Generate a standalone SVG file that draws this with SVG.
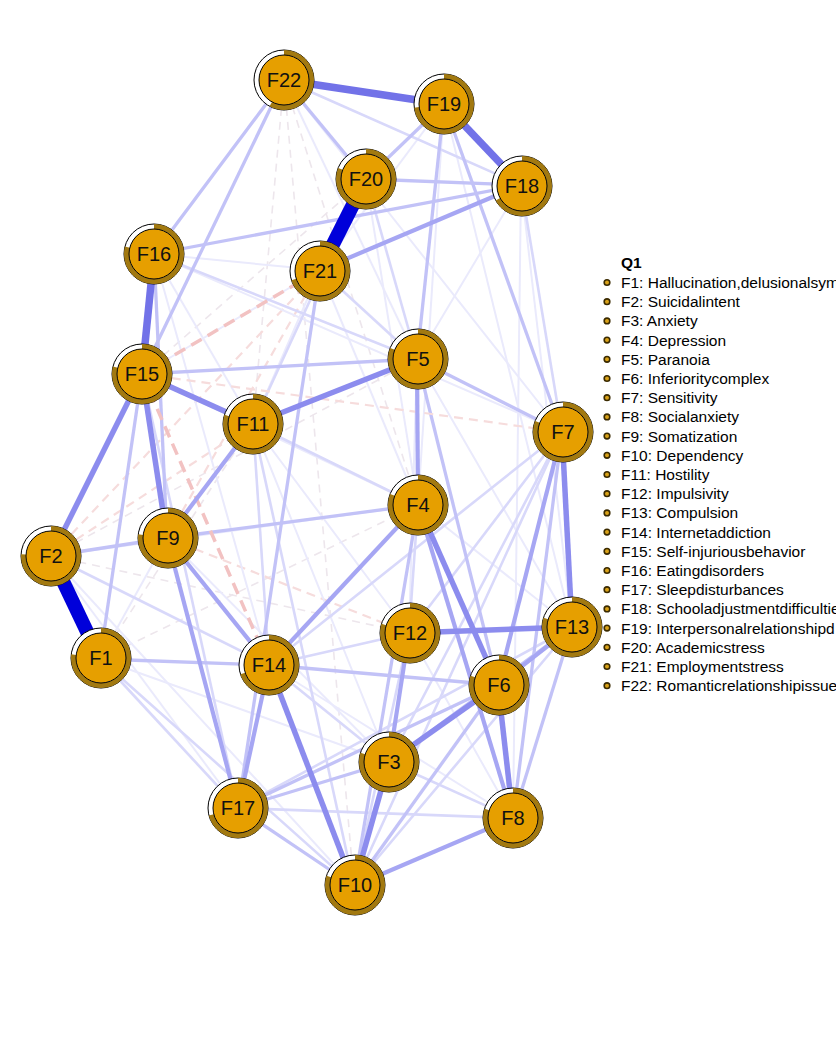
<svg xmlns="http://www.w3.org/2000/svg" width="836" height="1046" viewBox="0 0 836 1046">
<style>
.e{fill:none;stroke-linecap:butt}
.s1{stroke:#0000DA;stroke-width:14}
.s2{stroke:#7272E8;stroke-width:7.5}
.s3{stroke:#8C8CEE;stroke-width:5.5}
.s4{stroke:#A6A6F3;stroke-width:4.2}
.s5{stroke:#C2C2F7;stroke-width:3.3}
.s6{stroke:#D8D8FA;stroke-width:2.6}
.s7{stroke:#EAEAFC;stroke-width:2}
.n1{stroke:#F2C2C2;stroke-width:3.5;stroke-dasharray:12 7}
.n2{stroke:#F6DCDC;stroke-width:2.2;stroke-dasharray:9 6}
.n3{stroke:#EDE6EC;stroke-width:1.6;stroke-dasharray:8 6}
.o{fill:#FFFFFF;stroke:#000;stroke-width:1}
.p{fill:none;stroke:#A27910;stroke-width:5}
.i{fill:#E69F00;stroke:#000;stroke-width:1}
.l{font-family:"Liberation Sans",Arial,sans-serif;font-size:20px;fill:#111;text-anchor:middle}
.lg{font-family:"Liberation Sans",Arial,sans-serif;font-size:15.5px;fill:#000}
.lt{font-family:"Liberation Sans",Arial,sans-serif;font-size:15.5px;font-weight:bold;fill:#000}
.b{fill:#D9A21A;stroke:#3A2A00;stroke-width:1.6}
</style>
<rect width="836" height="1046" fill="#FFFFFF"/>
<g id="connectors">
<!-- faint negatives -->
<line class="e n3" x1="284" y1="80" x2="253" y2="424"/>
<line class="e n3" x1="284" y1="80" x2="354" y2="886"/>
<line class="e n3" x1="284" y1="80" x2="418" y2="505"/>
<line class="e n2" x1="51" y1="556" x2="253" y2="424"/>
<line class="e n2" x1="51" y1="556" x2="320" y2="270"/>
<line class="e n3" x1="51" y1="556" x2="417" y2="359"/>
<line class="e n2" x1="167" y1="538" x2="320" y2="270"/>
<line class="e n3" x1="100" y1="659" x2="418" y2="505"/>
<line class="e n2" x1="167" y1="538" x2="409" y2="633"/>
<line class="e n3" x1="51" y1="556" x2="409" y2="633"/>
<line class="e n3" x1="142" y1="374" x2="366" y2="179"/>
<line class="e n3" x1="100" y1="659" x2="253" y2="424"/>
<!-- faint positives -->
<line class="e s7" x1="51" y1="556" x2="238" y2="808"/>
<line class="e s7" x1="51" y1="556" x2="418" y2="505"/>
<line class="e s7" x1="154" y1="254" x2="253" y2="424"/>
<line class="e s7" x1="154" y1="254" x2="320" y2="270"/>
<line class="e s7" x1="284" y1="80" x2="417" y2="359"/>
<line class="e s7" x1="284" y1="80" x2="562" y2="432"/>
<line class="e s7" x1="444" y1="104" x2="320" y2="270"/>
<line class="e s7" x1="521" y1="185" x2="417" y2="359"/>
<line class="e s7" x1="521" y1="185" x2="572" y2="627"/>
<line class="e s7" x1="444" y1="104" x2="572" y2="627"/>
<line class="e s7" x1="100" y1="659" x2="167" y2="538"/>
<line class="e s7" x1="142" y1="374" x2="418" y2="505"/>
<line class="e s7" x1="253" y1="424" x2="409" y2="633"/>
<line class="e s7" x1="253" y1="424" x2="389" y2="762"/>
<line class="e s7" x1="409" y1="633" x2="513" y2="818"/>
<line class="e s7" x1="167" y1="538" x2="389" y2="762"/>
<line class="e s7" x1="269" y1="665" x2="513" y2="818"/>
<line class="e s7" x1="154" y1="254" x2="269" y2="665"/>
<line class="e s7" x1="320" y1="270" x2="253" y2="424"/>
<line class="e s7" x1="320" y1="270" x2="418" y2="505"/>
<line class="e s7" x1="366" y1="179" x2="418" y2="505"/>
<line class="e s7" x1="444" y1="104" x2="418" y2="505"/>
<line class="e s7" x1="100" y1="659" x2="389" y2="762"/>
<line class="e s7" x1="417" y1="359" x2="572" y2="627"/>
<line class="e s7" x1="417" y1="359" x2="409" y2="633"/>
<line class="e s7" x1="418" y1="505" x2="572" y2="627"/>
<line class="e s7" x1="51" y1="556" x2="354" y2="886"/>
<line class="e s7" x1="154" y1="254" x2="562" y2="432"/>
<line class="e s7" x1="521" y1="185" x2="513" y2="818"/>
<line class="e s7" x1="366" y1="179" x2="521" y2="185"/>
<line class="e s7" x1="142" y1="374" x2="320" y2="270"/>
<!-- light -->
<line class="e s6" x1="238" y1="808" x2="513" y2="818"/>
<line class="e s6" x1="154" y1="254" x2="417" y2="359"/>
<line class="e s6" x1="142" y1="374" x2="238" y2="808"/>
<line class="e s6" x1="562" y1="432" x2="409" y2="633"/>
<line class="e s6" x1="562" y1="432" x2="389" y2="762"/>
<line class="e s6" x1="562" y1="432" x2="354" y2="886"/>
<line class="e s6" x1="562" y1="432" x2="269" y2="665"/>
<line class="e s6" x1="100" y1="659" x2="238" y2="808"/>
<line class="e s6" x1="100" y1="659" x2="354" y2="886"/>
<line class="e s6" x1="51" y1="556" x2="269" y2="665"/>
<line class="e s6" x1="409" y1="633" x2="269" y2="665"/>
<line class="e s6" x1="572" y1="627" x2="238" y2="808"/>
<line class="e s6" x1="409" y1="633" x2="354" y2="886"/>
<line class="e s6" x1="269" y1="665" x2="389" y2="762"/>
<line class="e s6" x1="253" y1="424" x2="418" y2="505"/>
<line class="e s6" x1="253" y1="424" x2="269" y2="665"/>
<line class="e s6" x1="521" y1="185" x2="562" y2="432"/>
<line class="e s6" x1="366" y1="179" x2="417" y2="359"/>
<line class="e s6" x1="320" y1="270" x2="417" y2="359"/>
<line class="e s6" x1="253" y1="424" x2="354" y2="886"/>
<line class="e s6" x1="572" y1="627" x2="354" y2="886"/>
<line class="e s6" x1="284" y1="80" x2="521" y2="185"/>
<line class="e s6" x1="418" y1="505" x2="409" y2="633"/>
<line class="e s6" x1="389" y1="762" x2="513" y2="818"/>
<line class="e s6" x1="253" y1="424" x2="366" y2="179"/>
<!-- medium-light -->
<line class="e s5" x1="284" y1="80" x2="154" y2="254"/>
<line class="e s5" x1="284" y1="80" x2="142" y2="374"/>
<line class="e s5" x1="284" y1="80" x2="366" y2="179"/>
<line class="e s5" x1="444" y1="104" x2="366" y2="179"/>
<line class="e s5" x1="444" y1="104" x2="417" y2="359"/>
<line class="e s5" x1="444" y1="104" x2="562" y2="432"/>
<line class="e s5" x1="366" y1="179" x2="521" y2="185"/>
<line class="e s5" x1="142" y1="374" x2="417" y2="359"/>
<line class="e s5" x1="417" y1="359" x2="562" y2="432"/>
<line class="e s5" x1="417" y1="359" x2="498" y2="685"/>
<line class="e s5" x1="167" y1="538" x2="51" y2="556"/>
<line class="e s5" x1="100" y1="659" x2="269" y2="665"/>
<line class="e s5" x1="418" y1="505" x2="167" y2="538"/>
<line class="e s5" x1="142" y1="374" x2="100" y2="659"/>
<line class="e s5" x1="154" y1="254" x2="167" y2="538"/>
<line class="e s5" x1="154" y1="254" x2="521" y2="185"/>
<line class="e s5" x1="562" y1="432" x2="513" y2="818"/>
<line class="e s5" x1="354" y1="886" x2="498" y2="685"/>
<line class="e s5" x1="238" y1="808" x2="354" y2="886"/>
<line class="e s5" x1="572" y1="627" x2="389" y2="762"/>
<line class="e s5" x1="418" y1="505" x2="354" y2="886"/>
<line class="e s5" x1="320" y1="270" x2="238" y2="808"/>
<line class="e s5" x1="498" y1="685" x2="269" y2="665"/>
<line class="e s5" x1="572" y1="627" x2="513" y2="818"/>
<line class="e s5" x1="238" y1="808" x2="389" y2="762"/>
<line class="e s5" x1="498" y1="685" x2="238" y2="808"/>
<!-- negatives -->
<line class="e n1" x1="142" y1="374" x2="269" y2="665"/>
<line class="e n1" x1="142" y1="374" x2="320" y2="270"/>
<line class="e n2" x1="142" y1="374" x2="562" y2="432"/>
<!-- medium -->
<line class="e s4" x1="417" y1="359" x2="418" y2="505"/>
<line class="e s4" x1="253" y1="424" x2="167" y2="538"/>
<line class="e s4" x1="167" y1="538" x2="269" y2="665"/>
<line class="e s4" x1="167" y1="538" x2="238" y2="808"/>
<line class="e s4" x1="269" y1="665" x2="238" y2="808"/>
<line class="e s4" x1="409" y1="633" x2="389" y2="762"/>
<line class="e s4" x1="562" y1="432" x2="498" y2="685"/>
<line class="e s4" x1="418" y1="505" x2="513" y2="818"/>
<line class="e s4" x1="521" y1="185" x2="320" y2="270"/>
<line class="e s4" x1="418" y1="505" x2="269" y2="665"/>
<line class="e s4" x1="354" y1="886" x2="513" y2="818"/>
<line class="e s4" x1="572" y1="627" x2="498" y2="685"/>
<!-- strong-medium -->
<line class="e s3" x1="142" y1="374" x2="51" y2="556"/>
<line class="e s3" x1="142" y1="374" x2="253" y2="424"/>
<line class="e s3" x1="253" y1="424" x2="417" y2="359"/>
<line class="e s3" x1="142" y1="374" x2="167" y2="538"/>
<line class="e s3" x1="562" y1="432" x2="572" y2="627"/>
<line class="e s3" x1="409" y1="633" x2="572" y2="627"/>
<line class="e s3" x1="389" y1="762" x2="498" y2="685"/>
<line class="e s3" x1="389" y1="762" x2="354" y2="886"/>
<line class="e s3" x1="269" y1="665" x2="354" y2="886"/>
<line class="e s3" x1="418" y1="505" x2="498" y2="685"/>
<line class="e s3" x1="498" y1="685" x2="513" y2="818"/>
<!-- strong -->
<line class="e s2" x1="284" y1="80" x2="444" y2="104"/>
<line class="e s2" x1="444" y1="104" x2="521" y2="185"/>
<line class="e s2" x1="154" y1="254" x2="142" y2="374"/>
<line class="e s1" x1="51" y1="556" x2="100" y2="659"/>
<line class="e s1" x1="366" y1="179" x2="320" y2="270"/>
</g>
<g id="nodes">
<g id="F22" transform="translate(284,80)"><circle class="o" r="30"/><circle class="p" r="27.5" pathLength="100" stroke-dasharray="58 100" transform="rotate(-90)"/><circle class="i" r="25"/><text class="l" y="7">F22</text></g>
<g id="F19" transform="translate(444,104)"><circle class="o" r="30"/><circle class="p" r="27.5" pathLength="100" stroke-dasharray="73 100" transform="rotate(-90)"/><circle class="i" r="25"/><text class="l" y="7">F19</text></g>
<g id="F18" transform="translate(522,186)"><circle class="o" r="30"/><circle class="p" r="27.5" pathLength="100" stroke-dasharray="67 100" transform="rotate(-90)"/><circle class="i" r="25"/><text class="l" y="7">F18</text></g>
<g id="F20" transform="translate(366,179)"><circle class="o" r="30"/><circle class="p" r="27.5" pathLength="100" stroke-dasharray="81 100" transform="rotate(-90)"/><circle class="i" r="25"/><text class="l" y="7">F20</text></g>
<g id="F21" transform="translate(320,271)"><circle class="o" r="30"/><circle class="p" r="27.5" pathLength="100" stroke-dasharray="70 100" transform="rotate(-90)"/><circle class="i" r="25"/><text class="l" y="7">F21</text></g>
<g id="F16" transform="translate(154,254)"><circle class="o" r="30"/><circle class="p" r="27.5" pathLength="100" stroke-dasharray="79 100" transform="rotate(-90)"/><circle class="i" r="25"/><text class="l" y="7">F16</text></g>
<g id="F15" transform="translate(142,374)"><circle class="o" r="30"/><circle class="p" r="27.5" pathLength="100" stroke-dasharray="79 100" transform="rotate(-90)"/><circle class="i" r="25"/><text class="l" y="7">F15</text></g>
<g id="F5" transform="translate(418,359)"><circle class="o" r="30"/><circle class="p" r="27.5" pathLength="100" stroke-dasharray="81 100" transform="rotate(-90)"/><circle class="i" r="25"/><text class="l" y="7">F5</text></g>
<g id="F11" transform="translate(253,424)"><circle class="o" r="30"/><circle class="p" r="27.5" pathLength="100" stroke-dasharray="80 100" transform="rotate(-90)"/><circle class="i" r="25"/><text class="l" y="7">F11</text></g>
<g id="F7" transform="translate(563,432)"><circle class="o" r="30"/><circle class="p" r="27.5" pathLength="100" stroke-dasharray="81 100" transform="rotate(-90)"/><circle class="i" r="25"/><text class="l" y="7">F7</text></g>
<g id="F4" transform="translate(418,505)"><circle class="o" r="30"/><circle class="p" r="27.5" pathLength="100" stroke-dasharray="81 100" transform="rotate(-90)"/><circle class="i" r="25"/><text class="l" y="7">F4</text></g>
<g id="F9" transform="translate(168,538)"><circle class="o" r="30"/><circle class="p" r="27.5" pathLength="100" stroke-dasharray="77 100" transform="rotate(-90)"/><circle class="i" r="25"/><text class="l" y="7">F9</text></g>
<g id="F2" transform="translate(51,556)"><circle class="o" r="30"/><circle class="p" r="27.5" pathLength="100" stroke-dasharray="76 100" transform="rotate(-90)"/><circle class="i" r="25"/><text class="l" y="7">F2</text></g>
<g id="F12" transform="translate(410,633)"><circle class="o" r="30"/><circle class="p" r="27.5" pathLength="100" stroke-dasharray="80 100" transform="rotate(-90)"/><circle class="i" r="25"/><text class="l" y="7">F12</text></g>
<g id="F13" transform="translate(572,627)"><circle class="o" r="30"/><circle class="p" r="27.5" pathLength="100" stroke-dasharray="80 100" transform="rotate(-90)"/><circle class="i" r="25"/><text class="l" y="7">F13</text></g>
<g id="F1" transform="translate(101,658)"><circle class="o" r="30"/><circle class="p" r="27.5" pathLength="100" stroke-dasharray="77 100" transform="rotate(-90)"/><circle class="i" r="25"/><text class="l" y="7">F1</text></g>
<g id="F14" transform="translate(269,665)"><circle class="o" r="30"/><circle class="p" r="27.5" pathLength="100" stroke-dasharray="70 100" transform="rotate(-90)"/><circle class="i" r="25"/><text class="l" y="7">F14</text></g>
<g id="F6" transform="translate(499,685)"><circle class="o" r="30"/><circle class="p" r="27.5" pathLength="100" stroke-dasharray="80 100" transform="rotate(-90)"/><circle class="i" r="25"/><text class="l" y="7">F6</text></g>
<g id="F3" transform="translate(389,762)"><circle class="o" r="30"/><circle class="p" r="27.5" pathLength="100" stroke-dasharray="80 100" transform="rotate(-90)"/><circle class="i" r="25"/><text class="l" y="7">F3</text></g>
<g id="F17" transform="translate(238,808)"><circle class="o" r="30"/><circle class="p" r="27.5" pathLength="100" stroke-dasharray="71 100" transform="rotate(-90)"/><circle class="i" r="25"/><text class="l" y="7">F17</text></g>
<g id="F8" transform="translate(513,818)"><circle class="o" r="30"/><circle class="p" r="27.5" pathLength="100" stroke-dasharray="80 100" transform="rotate(-90)"/><circle class="i" r="25"/><text class="l" y="7">F8</text></g>
<g id="F10" transform="translate(355,885)"><circle class="o" r="30"/><circle class="p" r="27.5" pathLength="100" stroke-dasharray="80 100" transform="rotate(-90)"/><circle class="i" r="25"/><text class="l" y="7">F10</text></g>
</g>
<g id="legend">
<text class="lt" x="621" y="268">Q1</text>
<circle class="b" cx="607" cy="282.5" r="2.8"/><text class="lg" x="621" y="288">F1: Hallucination,delusionalsym</text>
<circle class="b" cx="607" cy="301.7" r="2.8"/><text class="lg" x="621" y="307.2">F2: Suicidalintent</text>
<circle class="b" cx="607" cy="320.9" r="2.8"/><text class="lg" x="621" y="326.4">F3: Anxiety</text>
<circle class="b" cx="607" cy="340.1" r="2.8"/><text class="lg" x="621" y="345.6">F4: Depression</text>
<circle class="b" cx="607" cy="359.3" r="2.8"/><text class="lg" x="621" y="364.8">F5: Paranoia</text>
<circle class="b" cx="607" cy="378.5" r="2.8"/><text class="lg" x="621" y="384">F6: Inferioritycomplex</text>
<circle class="b" cx="607" cy="397.7" r="2.8"/><text class="lg" x="621" y="403.2">F7: Sensitivity</text>
<circle class="b" cx="607" cy="416.9" r="2.8"/><text class="lg" x="621" y="422.4">F8: Socialanxiety</text>
<circle class="b" cx="607" cy="436.1" r="2.8"/><text class="lg" x="621" y="441.6">F9: Somatization</text>
<circle class="b" cx="607" cy="455.3" r="2.8"/><text class="lg" x="621" y="460.8">F10: Dependency</text>
<circle class="b" cx="607" cy="474.5" r="2.8"/><text class="lg" x="621" y="480">F11: Hostility</text>
<circle class="b" cx="607" cy="493.7" r="2.8"/><text class="lg" x="621" y="499.2">F12: Impulsivity</text>
<circle class="b" cx="607" cy="512.9" r="2.8"/><text class="lg" x="621" y="518.4">F13: Compulsion</text>
<circle class="b" cx="607" cy="532.1" r="2.8"/><text class="lg" x="621" y="537.6">F14: Internetaddiction</text>
<circle class="b" cx="607" cy="551.3" r="2.8"/><text class="lg" x="621" y="556.8">F15: Self-injuriousbehavior</text>
<circle class="b" cx="607" cy="570.5" r="2.8"/><text class="lg" x="621" y="576">F16: Eatingdisorders</text>
<circle class="b" cx="607" cy="589.7" r="2.8"/><text class="lg" x="621" y="595.2">F17: Sleepdisturbances</text>
<circle class="b" cx="607" cy="608.9" r="2.8"/><text class="lg" x="621" y="614.4">F18: Schooladjustmentdifficultie</text>
<circle class="b" cx="607" cy="628.1" r="2.8"/><text class="lg" x="621" y="633.6">F19: Interpersonalrelationshipd</text>
<circle class="b" cx="607" cy="647.3" r="2.8"/><text class="lg" x="621" y="652.8">F20: Academicstress</text>
<circle class="b" cx="607" cy="666.5" r="2.8"/><text class="lg" x="621" y="672">F21: Employmentstress</text>
<circle class="b" cx="607" cy="685.7" r="2.8"/><text class="lg" x="621" y="691.2">F22: Romanticrelationshipissue</text>
</g>
</svg>
